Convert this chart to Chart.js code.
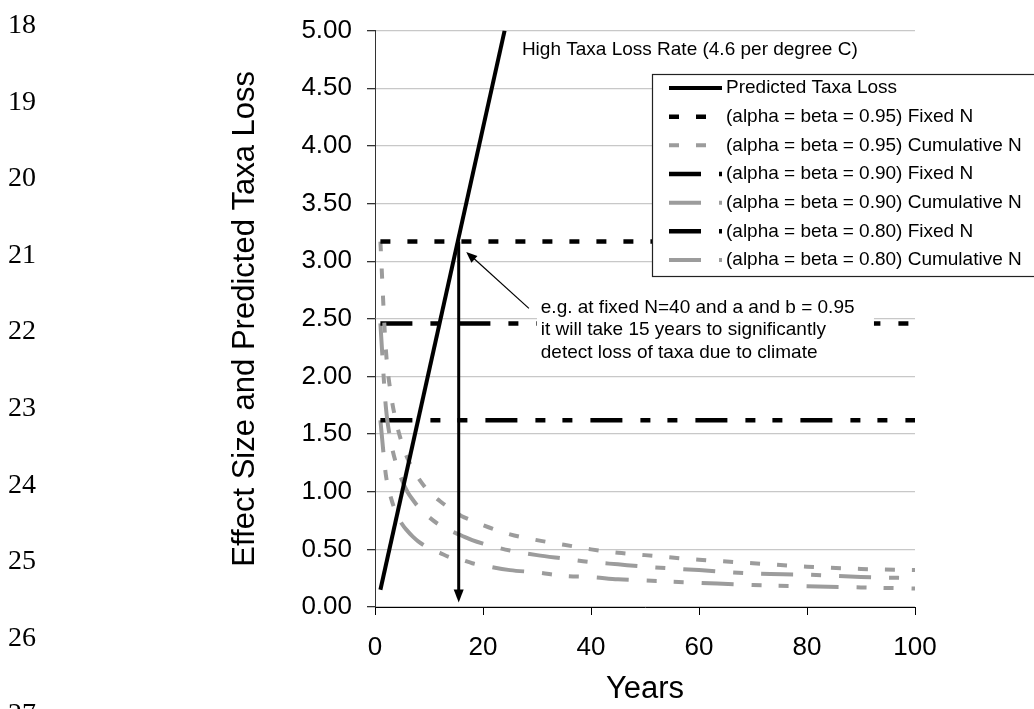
<!DOCTYPE html>
<html>
<head>
<meta charset="utf-8">
<style>
html,body{margin:0;padding:0;background:#fff;}
#wrap{position:relative;width:1034px;height:709px;overflow:hidden;background:#fff;}
#c{position:absolute;left:0;top:0;}
.ln{position:absolute;left:8px;font-family:"Liberation Serif","Times New Roman",serif;font-size:28px;line-height:28px;color:#000;}
</style>
<script src="https://cdn.jsdelivr.net/npm/chart.js@4/dist/chart.umd.min.js"></script>
</head>
<body>
<div id="wrap"><canvas id="c" width="1034" height="709"></canvas></div>
<script>
// ---------- data ----------
const lineNumbers = ['18','19','20','21','22','23','24','25','26','27'];

const seriesLabels = [
  'Predicted Taxa Loss',
  '(alpha = beta = 0.95) Fixed N',
  '(alpha = beta = 0.95) Cumulative N',
  '(alpha = beta = 0.90) Fixed N',
  '(alpha = beta = 0.90) Cumulative N',
  '(alpha = beta = 0.80) Fixed N',
  '(alpha = beta = 0.80) Cumulative N'
];

const taxaYears = [1, 24];
const taxaLoss  = [0.15, 5.0];

const fixedYears = [1, 100];
const fixed95 = [3.17, 3.17];
const fixed90 = [2.46, 2.46];
const fixed80 = [1.62, 1.62];

const cumYears = [1, 2, 3, 4, 5, 6, 7, 8, 10, 12, 14, 16, 18, 20, 25, 30, 35, 40, 45, 50, 60, 70, 80, 90, 100];
const cum95 = [3.17, 2.24, 1.83, 1.59, 1.42, 1.29, 1.20, 1.12, 1.00, 0.92, 0.85, 0.79, 0.75, 0.71, 0.63, 0.58, 0.54, 0.50, 0.47, 0.45, 0.41, 0.38, 0.35, 0.33, 0.32];
const cum90 = [2.46, 1.74, 1.42, 1.23, 1.10, 1.00, 0.93, 0.87, 0.78, 0.71, 0.66, 0.62, 0.58, 0.55, 0.49, 0.45, 0.42, 0.39, 0.37, 0.35, 0.32, 0.29, 0.28, 0.26, 0.25];
const cum80 = [1.62, 1.15, 0.94, 0.81, 0.72, 0.66, 0.61, 0.57, 0.51, 0.47, 0.43, 0.41, 0.38, 0.36, 0.32, 0.30, 0.27, 0.26, 0.24, 0.23, 0.21, 0.19, 0.18, 0.17, 0.16];

const xTickValues = [0, 20, 40, 60, 80, 100];
const yTickValues = [0, 0.5, 1, 1.5, 2, 2.5, 3, 3.5, 4, 4.5, 5];

const xTitle = 'Years';
const yTitle = 'Effect Size and Predicted Taxa Loss';
const rateNote = 'High Taxa Loss Rate (4.6 per degree C)';
const exampleNote = [
  'e.g. at fixed N=40 and a and b = 0.95',
  'it will take 15 years to significantly',
  'detect loss of taxa due to climate'
];
const arrowYear = 15.5;
const arrowFrom = 3.17;
const arrowTo = 0.04;

// ---------- line numbers ----------
const wrap = document.getElementById('wrap');
lineNumbers.forEach((t, i) => {
  const d = document.createElement('div');
  d.className = 'ln';
  d.textContent = t;
  d.style.top = (10 + i * 76.6) + 'px';
  wrap.appendChild(d);
});

// ---------- styles ----------
const FONT = '"Liberation Sans", Arial, sans-serif';
const BLACK = '#000000';
const GRAY = '#9c9c9c';
const dash95 = [10, 17];
const dash90 = [32, 18, 10, 18];
const dash80 = [32, 18, 10, 17, 10, 18];

function pts(xs, ys) { return xs.map((x, i) => ({x: x, y: ys[i]})); }

const datasets = [
  {label: seriesLabels[0], data: pts(taxaYears, taxaLoss), borderColor: BLACK, borderWidth: 4, borderDash: []},
  {label: seriesLabels[1], data: pts(fixedYears, fixed95), borderColor: BLACK, borderWidth: 4.5, borderDash: dash95},
  {label: seriesLabels[2], data: pts(cumYears, cum95), borderColor: GRAY, borderWidth: 4, borderDash: dash95},
  {label: seriesLabels[3], data: pts(fixedYears, fixed90), borderColor: BLACK, borderWidth: 4.5, borderDash: dash90},
  {label: seriesLabels[4], data: pts(cumYears, cum90), borderColor: GRAY, borderWidth: 4, borderDash: dash90},
  {label: seriesLabels[5], data: pts(fixedYears, fixed80), borderColor: BLACK, borderWidth: 4.5, borderDash: dash80},
  {label: seriesLabels[6], data: pts(cumYears, cum80), borderColor: GRAY, borderWidth: 4, borderDash: dash80}
].map(d => Object.assign(d, {pointRadius: 0, fill: false, cubicInterpolationMode: 'monotone', borderCapStyle: 'butt'}));

function arrowHead(ctx, x1, y1, x2, y2, len, half) {
  const a = Math.atan2(y2 - y1, x2 - x1);
  ctx.beginPath();
  ctx.moveTo(x2, y2);
  ctx.lineTo(x2 - len * Math.cos(a) + half * Math.sin(a), y2 - len * Math.sin(a) - half * Math.cos(a));
  ctx.lineTo(x2 - len * Math.cos(a) - half * Math.sin(a), y2 - len * Math.sin(a) + half * Math.cos(a));
  ctx.closePath();
  ctx.fill();
}

const overlay = {
  id: 'overlay',
  afterDatasetsDraw(chart) {
    const ctx = chart.ctx;
    const xs = chart.scales.x, ys = chart.scales.y;
    const X = v => xs.getPixelForValue(v);
    const Y = v => ys.getPixelForValue(v);
    ctx.save();
    // vertical arrow
    ctx.strokeStyle = BLACK; ctx.fillStyle = BLACK;
    ctx.lineWidth = 3; ctx.setLineDash([]);
    const ax = X(arrowYear), ay1 = Y(arrowFrom), ay2 = Y(arrowTo);
    ctx.beginPath(); ctx.moveTo(ax, ay1); ctx.lineTo(ax, ay2 - 10); ctx.stroke();
    arrowHead(ctx, ax, ay1, ax, ay2, 13, 5);
    // pointer arrow
    const px1 = X(28.5), py1 = Y(2.59), px2 = X(16.9), py2 = Y(3.08);
    ctx.lineWidth = 1.2;
    ctx.beginPath(); ctx.moveTo(px1, py1); ctx.lineTo(px2 + 6, py2 + 5); ctx.stroke();
    arrowHead(ctx, px1, py1, px2, py2, 11, 4.5);
    // note box
    const bx1 = X(30.0), bx2 = X(92.4), by1 = Y(2.72), by2 = Y(2.10);
    ctx.fillStyle = '#ffffff';
    ctx.fillRect(bx1, by1, bx2 - bx1, by2 - by1);
    ctx.fillStyle = BLACK;
    ctx.font = '19px ' + FONT;
    ctx.textAlign = 'left'; ctx.textBaseline = 'middle';
    exampleNote.forEach((t, i) => ctx.fillText(t, X(30.7), Y(2.60) + i * 22.5));
    // rate note
    ctx.fillText(rateNote, X(27.2), Y(4.83));
    // legend
    const lx = 652, ly = 74, lw = 400, lh = 202;
    ctx.fillStyle = '#ffffff';
    ctx.fillRect(lx, ly, lw, lh);
    ctx.strokeStyle = '#222'; ctx.lineWidth = 1.2;
    ctx.strokeRect(lx + 0.5, ly + 0.5, lw, lh);
    chart.data.datasets.forEach((ds, i) => {
      const yy = 88 + i * 28.67;
      ctx.strokeStyle = ds.borderColor;
      ctx.lineWidth = ds.borderWidth;
      ctx.setLineDash(ds.borderDash || []);
      ctx.lineDashOffset = 0;
      ctx.beginPath(); ctx.moveTo(669, yy); ctx.lineTo(722, yy); ctx.stroke();
      ctx.setLineDash([]);
      ctx.fillStyle = BLACK;
      ctx.font = '19px ' + FONT;
      ctx.fillText(ds.label, 726, yy);
    });
    ctx.restore();
  }
};

new Chart(document.getElementById('c'), {
  type: 'line',
  data: {datasets: datasets},
  plugins: [overlay],
  options: {
    responsive: false,
    animation: false,
    devicePixelRatio: 1,
    layout: {padding: {left: 227, top: 22, right: 119, bottom: 1}, autoPadding: false},
    plugins: {legend: {display: false}, tooltip: {enabled: false}},
    scales: {
      x: {
        type: 'linear', min: 0, max: 100,
        afterFit: s => { s.height = 101; },
        afterBuildTicks: s => { s.ticks = xTickValues.map(v => ({value: v})); },
        ticks: {font: {family: FONT, size: 26}, color: BLACK, padding: 17, maxRotation: 0, callback: v => String(v)},
        grid: {drawOnChartArea: false, drawTicks: true, tickLength: 8, tickColor: BLACK, color: BLACK},
        border: {display: true, color: BLACK, width: 1},
        title: {display: true, text: xTitle, font: {family: FONT, size: 31}, color: BLACK, padding: {top: 0, bottom: 0}}
      },
      y: {
        type: 'linear', min: 0, max: 5,
        afterFit: s => { s.width = 148; },
        afterBuildTicks: s => { s.ticks = yTickValues.map(v => ({value: v})); },
        ticks: {font: {family: FONT, size: 26}, color: BLACK, padding: 15, callback: v => Number(v).toFixed(2)},
        grid: {color: '#c8c8c8', lineWidth: 1.3, drawTicks: true, tickLength: 8, tickColor: '#333'},
        border: {display: true, color: '#333', width: 1},
        title: {display: true, text: yTitle, font: {family: FONT, size: 31}, color: BLACK, padding: {top: 0, bottom: 0}}
      }
    }
  }
});
</script>
</body>
</html>
